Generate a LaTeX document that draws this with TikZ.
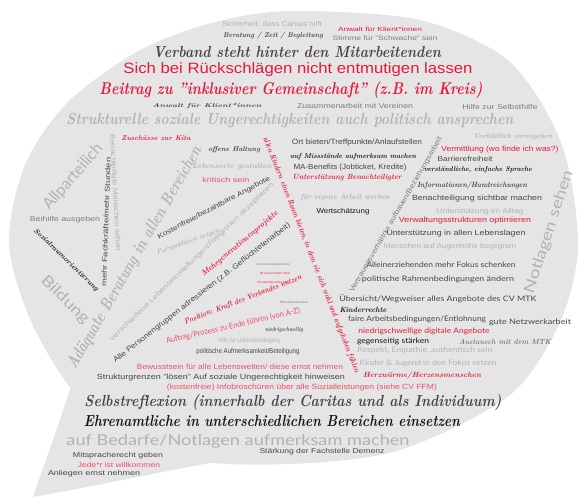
\documentclass[tikz,border=0pt]{standalone}
\usepackage{fontspec}
\usepackage{graphicx}
\setsansfont{Liberation Sans}
\newfontfamily\thinfont{Lato}
\usetikzlibrary{positioning}
\definecolor{bubble}{RGB}{229,229,229}
\definecolor{cdark}{RGB}{70,70,70}
\definecolor{cblack}{RGB}{20,20,20}
\definecolor{cred}{RGB}{232,24,58}
\definecolor{cpink}{RGB}{238,80,105}
\definecolor{clight}{RGB}{178,178,178}
\definecolor{cmid}{RGB}{125,125,125}
\newcommand\fitw[2]{\resizebox{#1pt}{\height}{#2}}

\begin{document}
\begin{tikzpicture}[x=1pt,y=-1pt,
  word/.style={inner sep=0pt, anchor=center},
  hand/.style={word, font=\rmfamily\bfseries\itshape\fontsize{#1}{#1}\selectfont},
  sans/.style={word, font=\sffamily\fontsize{#1}{#1}\selectfont},
  thin/.style={word, font=\thinfont\fontsize{#1}{#1}\selectfont}]
  \useasboundingbox (0,0) rectangle (579,501);

  % speech bubble
  \fill[bubble] plot[smooth cycle] coordinates {(292,11) (420,20) (510,62) (562,145)
    (578,245) (560,322) (510,395) (400,450) (290,464) (180,458) (90,410) (35,330)
    (9,245) (25,165) (68,102) (140,50) (215,22)};
  \fill[bubble] (78,365) .. controls (60,420) .. (33,497)
    .. controls (90,487) and (150,474) .. (215,462) -- (220,400) -- cycle;

  % top rows
  \node[sans=7, text=clight] (sicherheit) at (272,24) {\fitw{100}{Sicherheit, dass Caritas hilft}};
  \node[sans=6, text=cred] (anwalt) at (380,29) {\fitw{84}{Anwalt für Klient*innen}};
  \node[hand=7, text=cdark] (beratung) at (273,36) {\fitw{100}{Beratung / Zeit / Begleitung}};
  \node[sans=6.5, text=cmid] (stimme) at (385,38) {\fitw{105}{Stimme für "Schwache" sein}};
  \node[hand=16, text=cdark] (verband) at (297,52) {\fitw{288}{Verband steht hinter den Mitarbeitenden}};
  \node[sans=15, text=cred] (rueckschlag) at (298,70) {\fitw{349}{Sich bei Rückschlägen nicht entmutigen lassen}};
  \node[hand=17, text=cred] (beitrag) at (291,90) {\fitw{383}{Beitrag zu "inklusiver Gemeinschaft" (z.B. im Kreis)}};
  \node[hand=5.5, text=cdark] (anwaltb) at (207,106) {\fitw{109}{Anwalt für Klient*innen}};
  \node[sans=7, text=cmid] (vereine) at (355,106) {\fitw{116}{Zusammenarbeit mit Vereinen}};
  \node[sans=7, text=cmid] (selbsthilfe) at (500,107) {\fitw{75}{Hilfe zur Selbsthilfe}};
  \node[hand=16, text=clight] (strukturell) at (290,120) {\fitw{447}{Strukturelle soziale Ungerechtigkeiten auch politisch ansprechen}};
  \node[hand=7, text=clight] (vorbild) at (513,137) {\fitw{79}{Vorbildlich vorangehen}};

  % left part
  \node[hand=7, text=cred] (kita) at (156,138) {\fitw{69}{Zuschüsse zur Kita}};
  \node[thin=16, text=clight, rotate=49] (allpart) at (73,177) {\fitw{82}{Allparteilich}};
  \node[sans=7, text=clight, rotate=-87] (benachteiligte) at (115,193) {\fitw{117}{Benachteiligte Menschen sehen}};
  \node[sans=7, text=cdark, rotate=88] (fachkraefte) at (106,222) {\fitw{129}{mehr Fachkräfte/mehr Stunden}};
  \node[sans=7, text=cmid] (beihilfe) at (65,220) {\fitw{70}{Beihilfe ausgeben}};
  \node[hand=7, text=cblack, rotate=-44] (sozialraum) at (66,260) {\fitw{87}{Sozialraumorientierung}};
  \node[thin=15, text=clight, rotate=-45] (bildung) at (65,300) {\fitw{62}{Bildung}};
  \node[hand=17, text=clight, rotate=60] (adaequat) at (135,258) {\fitw{253}{Adäquate Beratung in allen Bereichen}};
  \node[hand=7, text=cdark] (haltung) at (234,150) {\fitw{52}{offene Haltung}};
  \node[hand=7.5, text=clight] (lebensorte) at (232,167) {\fitw{79}{Lebensorte gestalten}};
  \node[sans=7, text=cpink] (kritisch) at (226,180) {\fitw{47}{kritisch sein}};
  \node[sans=7, text=cdark, rotate=28] (kostenfrei) at (214,208) {\fitw{126}{Kostenfreie/bezahlbare Angebote}};
  \node[hand=7, text=clight, rotate=20] (perspektive) at (188,242) {\fitw{66}{Perspektiven zeigen}};
  \node[sans=7, text=clight, rotate=44] (religion) at (192,262) {\fitw{224}{verschiedene Lebenseinstellungen/Religionen akzeptieren}};
  \node[hand=8, text=cred, rotate=40] (mehrgen) at (240,244) {\fitw{97}{Mehrgenerationenprojekte}};
  \node[sans=7.5, text=cdark, rotate=38] (personen) at (202,293) {\fitw{222}{Alle Personengruppen adressieren (z.B. Geflüchtetenarbeit)}};
  \node[hand=8, text=cred, rotate=21] (position) at (243,300) {\fitw{125}{Position: Kraft des Verbandes nutzen}};
  \node[sans=3, text=cmid] (neues) at (273,265) {\fitw{33}{Neues generationsübergreifendes Arbeit}};
  \node[sans=3, text=cred] (mitkind) at (275,273) {\fitw{30}{Mit einer für Kinder* immer}};
  \node[sans=3, text=cred] (fueralle) at (272,282) {\fitw{29}{Für alle Menschen da}};
  \node[sans=3, text=cmid] (oeffentlich) at (294,302) {\fitw{28}{Öffentlichkeitsarbeit}};
  \node[thin=8, text=cpink, rotate=13] (auftrag) at (233,326) {\fitw{137}{Auftrag/Prozess zu Ende führen (von A-Z)}};
  \node[hand=6, text=cdark] (niedrig) at (284,330) {\fitw{38}{niedrigschwellig}};
  \node[sans=6.5, text=clight] (lebensbew) at (249,341) {\fitw{62}{Hilfe zur Lebensbewältigung}};
  \node[sans=7, text=cdark] (aufmerksam) at (248,352) {\fitw{103}{politische Aufmerksamkeit/Beteiligung}};
  \node[sans=7.5, text=cpink] (bewusstsein) at (240,367) {\fitw{206}{Bewusstsein für alle Lebenswelten/ diese ernst nehmen}};
  \node[sans=7.5, text=cdark] (grenzen) at (221,378) {\fitw{248}{Strukturgrenzen "lösen" Auf soziale Ungerechtigkeit hinweisen}};
  \node[sans=7.5, text=cpink] (infobrosch) at (302,388) {\fitw{270}{(kostenfreie) Infobroschüren über alle Sozialleistungen (siehe CV FFM)}};

  % bottom rows
  \node[hand=16, text=cdark] (selbstrefl) at (293,402) {\fitw{417}{Selbstreflexion (innerhalb der Caritas und als Individuum)}};
  \node[hand=16, text=cblack] (ehrenamt) at (272,421) {\fitw{376}{Ehrenamtliche in unterschiedlichen Bereichen einsetzen}};
  \node[thin=15, text=clight] (bedarfe) at (238,441) {\fitw{343}{auf Bedarfe/Notlagen aufmerksam machen}};
  \node[sans=7, text=cdark] (mitsprache) at (118,456) {\fitw{90}{Mitspracherecht geben}};
  \node[sans=7, text=cdark] (demenz) at (322,452) {\fitw{125}{Stärkung der Fachstelle Demenz}};
  \node[sans=7, text=cpink] (jeder) at (119,465) {\fitw{82}{Jede*r ist willkommen}};
  \node[sans=7, text=cdark] (anliegen) at (94,474) {\fitw{92}{Anliegen ernst nehmen}};

  % middle part
  \node[hand=8, text=cred, rotate=-68.6] (kinderraum) at (311,255) {\fitw{252}{allen Kindern einen Raum bieten, in dem sie sich wohl und aufgehoben fühlen}};
  \node[sans=7.5, text=cdark] (ort) at (357,143) {\fitw{130}{Ort bieten/Treffpunkte/Anlaufstellen}};
  \node[hand=7, text=cblack] (missstand) at (353,157) {\fitw{126}{auf Missstände aufmerksam machen}};
  \node[sans=7.5, text=cdark] (benefits) at (350,168) {\fitw{113}{MA-Benefits (Jobticket, Kredite)}};
  \node[hand=7.5, text=cred] (unterstbenach) at (347,178) {\fitw{109}{Unterstützung Benachteiligter}};
  \node[hand=7.5, text=clight] (werben) at (345,198) {\fitw{89}{für eigene Arbeit werben}};
  \node[sans=7, text=cblack] (wertschaetz) at (343,212) {\fitw{53}{Wertschätzung}};
  \node[sans=7, text=cmid, rotate=60] (vertrauen) at (396,215) {\fitw{178}{Vertrauensverhältnis aufbauen/Beziehungsarbeit}};

  % right part
  \node[sans=7.5, text=cred] (vermittlung) at (500,150) {\fitw{117}{Vermittlung (wo finde ich was?)}};
  \node[sans=7, text=cdark] (barriere) at (465,159) {\fitw{55}{Barrierefreiheit}};
  \node[hand=7, text=cblack] (sprache) at (478,170) {\fitw{108}{verständliche, einfache Sprache}};
  \node[hand=7.5, text=cdark] (info) at (472,186) {\fitw{110}{Informationen/Handreichungen}};
  \node[sans=7.5, text=cdark] (sichtbar) at (477,199) {\fitw{130}{Benachteiligung sichtbar machen}};
  \node[sans=7, text=clight] (alltag) at (480,212) {\fitw{87}{Unterstützung im Alltag}};
  \node[sans=7.5, text=cred] (verwaltung) at (465,221) {\fitw{132}{Verwaltungsstrukturen optimieren}};
  \node[sans=7.5, text=cdark] (lebenslagen) at (456,234) {\fitw{139}{Unterstützung in allen Lebenslagen}};
  \node[sans=7, text=clight] (augenhoehe) at (450,247) {\fitw{132}{Menschen auf Augenhöhe begegnen}};
  \node[thin=15, text=clight, rotate=72] (notlagen) at (549,232) {\fitw{128}{Notlagen sehen}};
  \node[thin=7.5, text=cdark] (allein) at (441,265) {\fitw{149}{Alleinerziehenden mehr Fokus schenken}};
  \node[thin=7.5, text=cdark] (rahmen) at (438,279) {\fitw{152}{politische Rahmenbedingungen ändern}};
  \node[thin=7.5, text=cdark] (uebersicht) at (438,299) {\fitw{197}{Übersicht/Wegweiser alles Angebote des CV MTK}};
  \node[hand=7.5, text=cblack] (kinderrechte) at (363,310) {\fitw{47}{Kinderrechte}};
  \node[thin=7.5, text=cdark] (faire) at (417,319) {\fitw{138}{faire Arbeitsbedingungen/Entlohnung}};
  \node[thin=7.5, text=cdark] (netzwerk) at (530,322) {\fitw{82}{gute Netzwerkarbeit}};
  \node[thin=7.5, text=cred] (digital) at (424,331) {\fitw{131}{niedrigschwellige digitale Angebote}};
  \node[thin=7.5, text=cblack] (staerken) at (393,341) {\fitw{72}{gegenseitig stärken}};
  \node[hand=7.5, text=cmid] (mtk) at (505,342) {\fitw{92}{Austausch mit dem MTK}};
  \node[thin=7.5, text=clight] (respekt) at (425,350) {\fitw{135}{Respekt, Empathie, authentisch sein}};
  \node[thin=7.5, text=clight] (jugend) at (428,363) {\fitw{137}{Kinder \& Jugend in den Fokus setzen}};
  \node[hand=7.5, text=cred] (herz) at (422,376) {\fitw{118}{Herzwärme/Herzensmenschen}};
\end{tikzpicture}
\end{document}
